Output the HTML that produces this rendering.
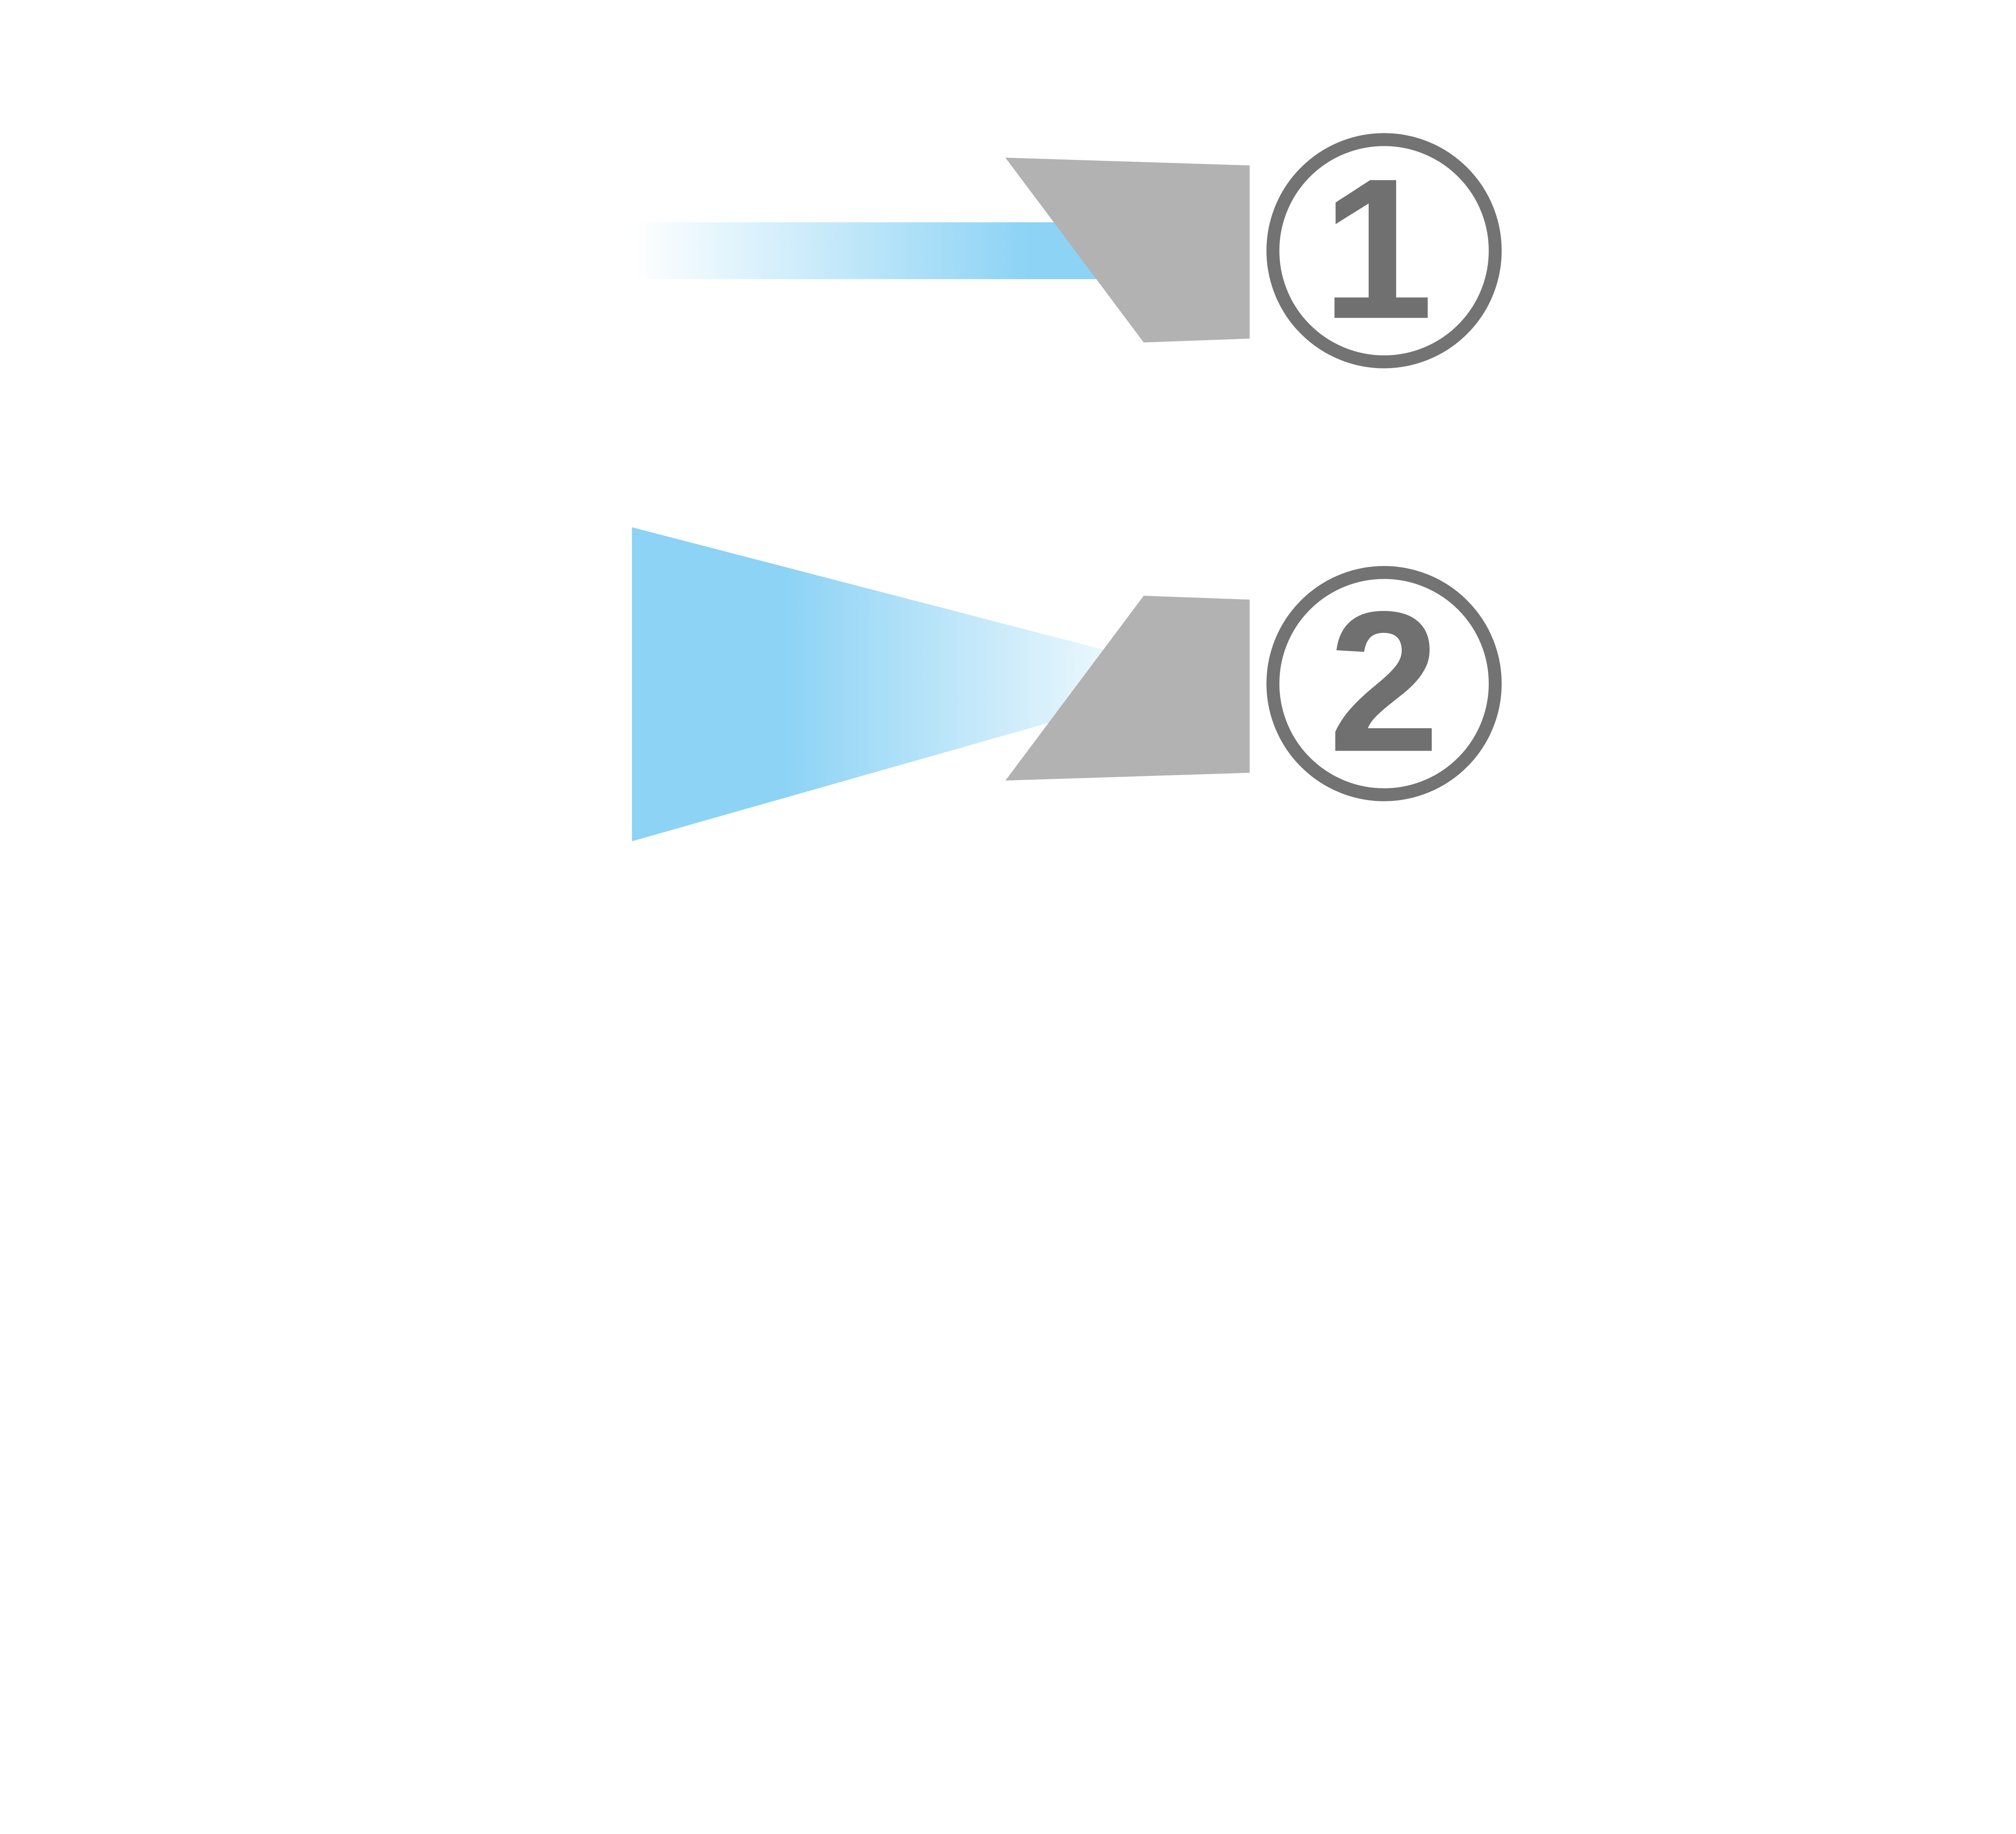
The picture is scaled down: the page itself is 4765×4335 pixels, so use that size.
<!DOCTYPE html>
<html><head><meta charset="utf-8"><style>
html,body{margin:0;padding:0;background:#fff;}
svg{display:block;}
</style></head><body>
<svg width="4765" height="4335" viewBox="0 0 1560 1419.2" xmlns="http://www.w3.org/2000/svg">
<defs>
<linearGradient id="g1" x1="489" y1="0" x2="850" y2="0" gradientUnits="userSpaceOnUse">
<stop offset="0" stop-color="#8CD3F5" stop-opacity="0"/>
<stop offset="0.85" stop-color="#8CD3F5" stop-opacity="1"/>
<stop offset="1" stop-color="#8CD3F5" stop-opacity="1"/>
</linearGradient>
<linearGradient id="g2" x1="489" y1="0" x2="880" y2="0" gradientUnits="userSpaceOnUse">
<stop offset="0" stop-color="#8CD3F5"/>
<stop offset="0.3" stop-color="#8CD3F5"/>
<stop offset="1" stop-color="#8CD3F5" stop-opacity="0.1"/>
</linearGradient>
</defs>
<rect x="489" y="172" width="370" height="44" fill="url(#g1)"/>
<polygon points="778,122 967,128 967,262 885,265" fill="#B2B2B2"/>
<circle cx="1071" cy="194" r="86" fill="#fff" stroke="#737373" stroke-width="10"/>
<text x="1066" y="246" font-family="Liberation Sans, sans-serif" font-weight="bold" font-size="155" fill="#707070" text-anchor="middle">1</text>

<polygon points="489,408 489,651 936,524" fill="url(#g2)"/>
<polygon points="885,461 967,464 967,598 778,604" fill="#B2B2B2"/>
<circle cx="1071" cy="529" r="86" fill="#fff" stroke="#737373" stroke-width="10"/>
<text x="1071" y="581" font-family="Liberation Sans, sans-serif" font-weight="bold" font-size="155" fill="#707070" text-anchor="middle">2</text>
</svg>
</body></html>
